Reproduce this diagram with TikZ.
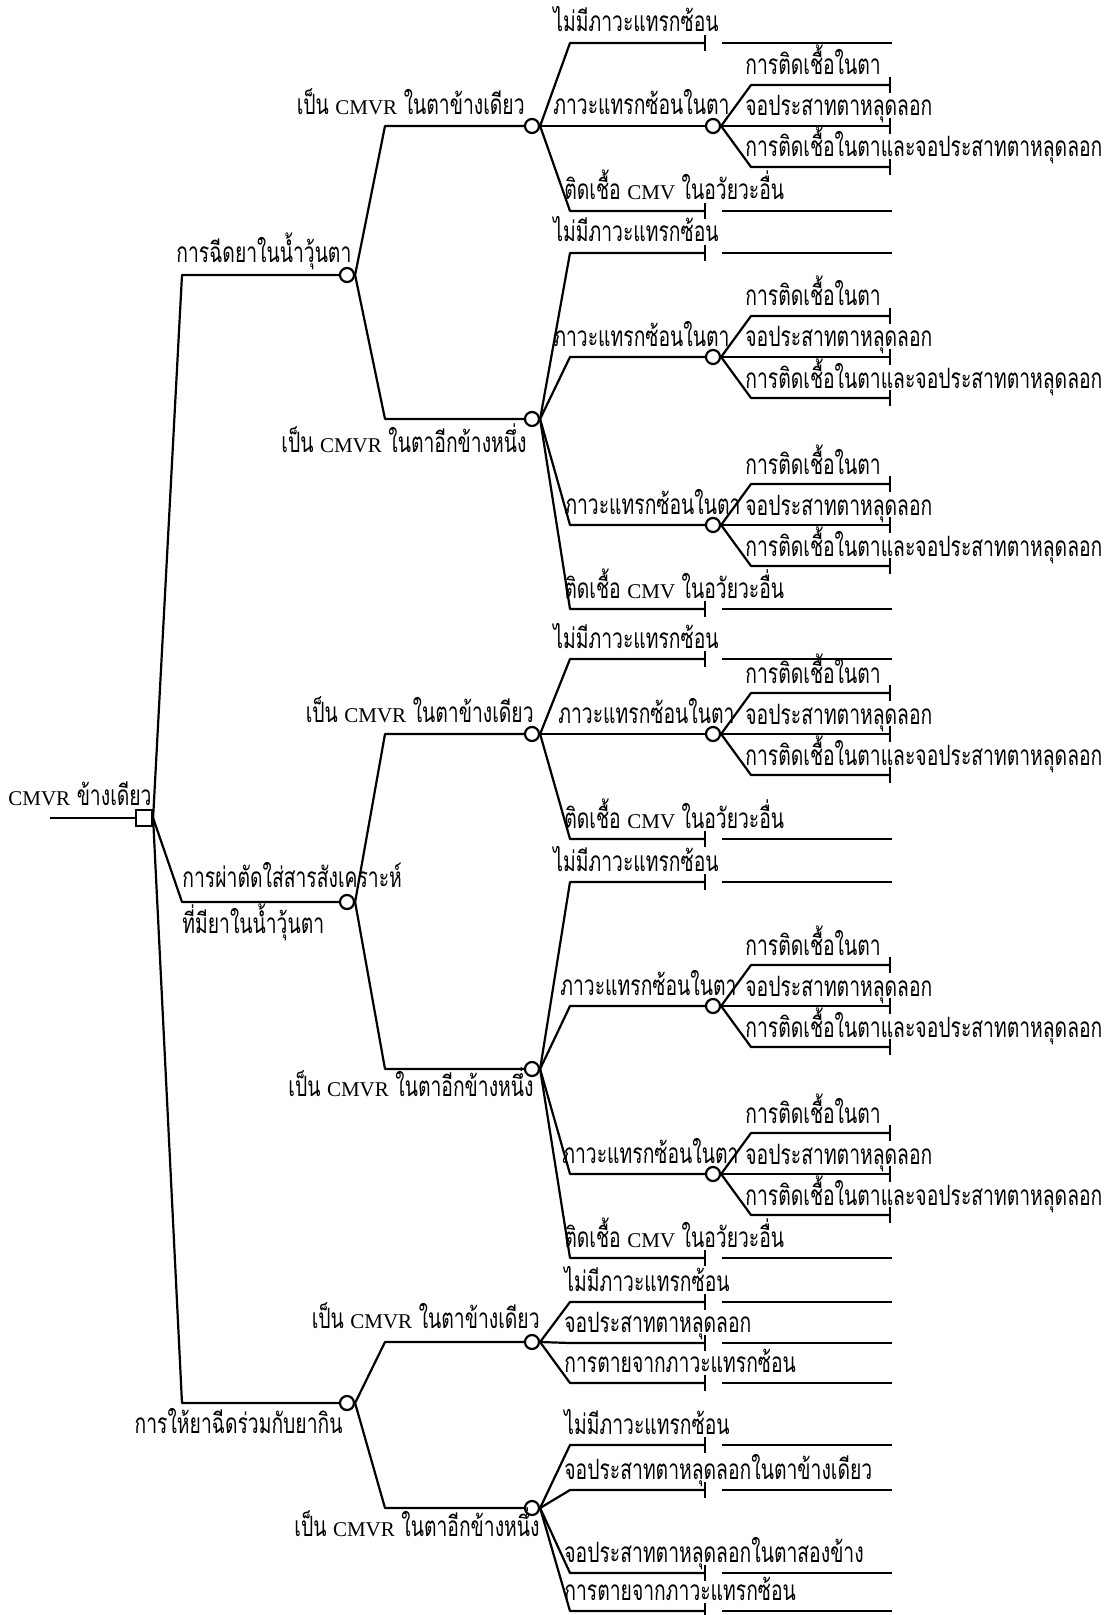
\documentclass[tikz,border=0pt]{standalone}
\usepackage{fontspec}
\setmainfont[Script=Thai,FakeStretch=0.69]{Loma}
\newfontfamily\latinfont{Liberation Serif}
\newcommand{\eng}[1]{{\latinfont\fontsize{10.5}{12}\selectfont #1}}
\usetikzlibrary{calc}
\newcommand{\twig}[2]{\draw[branch] (#1.east) -- ($(#1.center |- #2)+(38,0)$) -- (#2);}

\begin{document}
\begin{tikzpicture}[
    x=0.5pt, y=-0.5pt,
    every node/.style={font=\fontsize{14}{16}\selectfont, inner sep=0pt},
    chance/.style={circle, draw, line width=1.1pt, fill=white, minimum size=7pt},
    decision/.style={rectangle, draw, line width=1.1pt, fill=white, minimum size=8pt},
    branch/.style={line width=1.1pt, line join=round},
    lbl/.style={anchor=base west},
    lblr/.style={anchor=base east}
]
    \useasboundingbox (0,0) rectangle (1113,1615);

    % decision and chance nodes
    \coordinate (start) at (50,818);
    \node[decision] (root) at (144,818) {};
    \node[chance] (c1) at (347,275) {};
    \node[chance] (c2) at (347,902) {};
    \node[chance] (c3) at (347,1403) {};
    \node[chance] (c11) at (532,126) {};
    \node[chance] (c12) at (532,419) {};
    \node[chance] (c21) at (532,734) {};
    \node[chance] (c22) at (532,1069) {};
    \node[chance] (c31) at (532,1342) {};
    \node[chance] (c32) at (532,1508) {};
    \node[chance] (c112) at (713,126) {};
    \node[chance] (c122) at (713,357) {};
    \node[chance] (c123) at (713,525) {};
    \node[chance] (c212) at (713,734) {};
    \node[chance] (c222) at (713,1006) {};
    \node[chance] (c223) at (713,1174) {};

    % branches
    \draw[branch] (start) -- (root);
    \twig{root}{c1} \twig{root}{c2} \twig{root}{c3}
    \twig{c1}{c11} \twig{c1}{c12}
    \twig{c2}{c21} \twig{c2}{c22}
    \twig{c3}{c31} \twig{c3}{c32}
    \twig{c11}{c112} \twig{c12}{c122} \twig{c12}{c123}
    \twig{c21}{c212} \twig{c22}{c222} \twig{c22}{c223}

    % labels of the first two levels
    \node[lbl] (root-t) at (8,805) {\eng{CMVR} ข้างเดียว};
    \node[lbl] (c1-t) at (176,263) {การฉีดยาในน้ำวุ้นตา};
    \node[lbl] (c2-t) at (182,887) {การผ่าตัดใส่สารสังเคราะห์};
    \node[lbl] (c2-u) at (182,933) {ที่มียาในน้ำวุ้นตา};
    \node[lblr] (c3-t) at (343,1433) {การให้ยาฉีดร่วมกับยากิน};
    \node[lblr] (c11-t) at (525,115) {เป็น \eng{CMVR} ในตาข้างเดียว};
    \node[lblr] (c12-t) at (527,452) {เป็น \eng{CMVR} ในตาอีกข้างหนึ่ง};
    \node[lblr] (c21-t) at (534,722) {เป็น \eng{CMVR} ในตาข้างเดียว};
    \node[lblr] (c22-t) at (534,1096) {เป็น \eng{CMVR} ในตาอีกข้างหนึ่ง};
    \node[lblr] (c31-t) at (540,1328) {เป็น \eng{CMVR} ในตาข้างเดียว};
    \node[lblr] (c32-t) at (540,1536) {เป็น \eng{CMVR} ในตาอีกข้างหนึ่ง};

    % labels of the chance branches
    \foreach \c/\lx in {c112/553, c122/553, c123/564, c212/558, c222/560, c223/562}
        \node[lbl] (\c-t) at ($(\lx,0 |- \c)+(0,-11)$) {ภาวะแทรกซ้อนในตา};

    % terminal branches
    \foreach \p/\n/\yy/\lx/\txt in {
        c11/c11a/43/553/{ไม่มีภาวะแทรกซ้อน},
        c11/c11b/211/564/{ติดเชื้อ \eng{CMV} ในอวัยวะอื่น},
        c12/c12a/253/553/{ไม่มีภาวะแทรกซ้อน},
        c12/c12b/609/564/{ติดเชื้อ \eng{CMV} ในอวัยวะอื่น},
        c21/c21a/659/553/{ไม่มีภาวะแทรกซ้อน},
        c21/c21b/839/564/{ติดเชื้อ \eng{CMV} ในอวัยวะอื่น},
        c22/c22a/882/553/{ไม่มีภาวะแทรกซ้อน},
        c22/c22b/1258/564/{ติดเชื้อ \eng{CMV} ในอวัยวะอื่น},
        c31/c31a/1302/564/{ไม่มีภาวะแทรกซ้อน},
        c31/c31b/1343/564/{จอประสาทตาหลุดลอก},
        c31/c31c/1383/564/{การตายจากภาวะแทรกซ้อน},
        c32/c32a/1445/564/{ไม่มีภาวะแทรกซ้อน},
        c32/c32b/1490/564/{จอประสาทตาหลุดลอกในตาข้างเดียว},
        c32/c32c/1573/564/{จอประสาทตาหลุดลอกในตาสองข้าง},
        c32/c32d/1611/564/{การตายจากภาวะแทรกซ้อน}} {
        \coordinate (\n) at (705,\yy);
        \twig{\p}{\n}
        \draw[branch] (\n) ++(0,-8) -- ++(0,16);
        \draw[branch] (\n) ++(17,0) -- ++(170,0);
        \node[lbl] (\n-t) at (\lx,\yy-11) {\txt};
    }

    % outcome branches of each complication node
    \foreach \c in {c112, c122, c123, c212, c222, c223} {
        \foreach \k/\dy/\txt in {1/-41/{การติดเชื้อในตา}, 2/0/{จอประสาทตาหลุดลอก},
                3/41/{การติดเชื้อในตาและจอประสาทตาหลุดลอก}} {
            \coordinate (\c-\k) at ($(\c)+(177,\dy)$);
            \twig{\c}{\c-\k}
            \draw[branch] (\c-\k) ++(0,-8) -- ++(0,16);
            \node[lbl] (\c-\k-t) at ($(\c)+(32,\dy-10)$) {\txt};
        }
    }
\end{tikzpicture}
\end{document}
